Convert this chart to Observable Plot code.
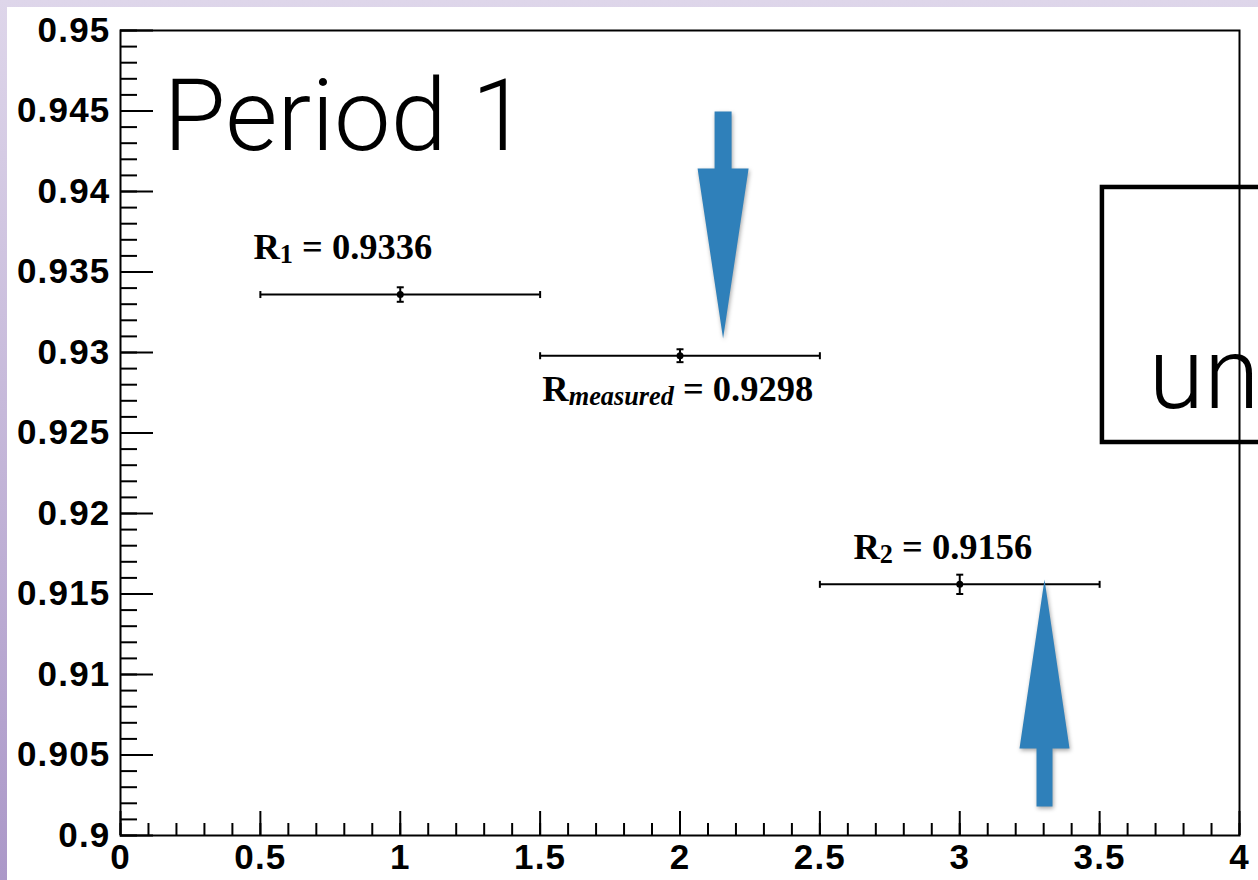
<!DOCTYPE html>
<html>
<head>
<meta charset="utf-8">
<script src="https://cdn.jsdelivr.net/npm/d3@7"></script>
<script src="https://cdn.jsdelivr.net/npm/@observablehq/plot@0.6"></script>
<style>
  html, body { margin: 0; padding: 0; background: #fff; }
  #page {
    position: relative; width: 1258px; height: 880px; overflow: hidden;
    background: linear-gradient(to bottom, #ded6ea, #ab98c8);
  }
  #chart {
    position: absolute; left: 7px; top: 7px; width: 1251px; height: 873px;
    background: #fff; overflow: hidden;
  }
  .tick-label text { letter-spacing: 1px; }
</style>
</head>
<body>
<div id="page"><div id="chart"></div></div>
<script>
// Measured ratios per bin, with their uncertainties
const binCenter    = [1, 2, 3];
const binHalfWidth = [0.5, 0.5, 0.5];
const ratio        = [0.9336, 0.9298, 0.9156];
const ratioErr     = [0.00045, 0.0004, 0.0006];

// Value labels: subscript and baseline position (data units)
const labelSub = ["1", "measured", "2"];
const labelX   = [0.475, 1.508, 2.62];
const labelY   = [0.93578, 0.92696, 0.9172];

// Axis ticks
const xMajor = [0, 0.5, 1, 1.5, 2, 2.5, 3, 3.5, 4];
const xMinor = d3.range(0, 41).map(i => i / 10);
const yMajor = [0.9, 0.905, 0.91, 0.915, 0.92, 0.925, 0.93, 0.935, 0.94, 0.945, 0.95];
const yMinor = d3.range(0, 51).map(i => +(0.9 + i / 1000).toFixed(3));

// Annotation arrows: centre x, tip y, head base y, tail y, head / shaft half widths
const arrowCx    = [2.154, 3.303];
const arrowTip   = [0.93087, 0.91590];
const arrowBase  = [0.94143, 0.90540];
const arrowTail  = [0.94497, 0.90180];
const arrowHead  = [0.0912, 0.0894];
const arrowShaft = [0.0304, 0.0286];

// Overlay texts and the boxed note at the right edge
const titleText = ["Period 1"];
const titleX = [0.154], titleY = [0.94255];
const noteText = ["un"];
const noteX = [3.675], noteY = [0.92658];
const noteBox = [{x1: 3.51, x2: 4.8, y1: 0.92441, y2: 0.94025}];

const points = binCenter.map((x, i) => ({
  x, hw: binHalfWidth[i], r: ratio[i], e: ratioErr[i]
}));
const labels = labelSub.map((sub, i) => ({
  sub, value: ratio[i], x: labelX[i], y: labelY[i]
}));
const arrowPts = arrowCx.flatMap((cx, i) => {
  const hw = arrowHead[i], sw = arrowShaft[i];
  return [
    [cx - sw, arrowTail[i]], [cx + sw, arrowTail[i]], [cx + sw, arrowBase[i]],
    [cx + hw, arrowBase[i]], [cx, arrowTip[i]], [cx - hw, arrowBase[i]],
    [cx - sw, arrowBase[i]]
  ].map(([x, y]) => ({arrow: i, x, y}));
});

// Short cap symbols for the error bar ends
const vCap = {draw(ctx, size) { const h = Math.sqrt(size / Math.PI); ctx.moveTo(0, -h); ctx.lineTo(0, h); }};
const hCap = {draw(ctx, size) { const h = Math.sqrt(size / Math.PI); ctx.moveTo(-h, 0); ctx.lineTo(h, 0); }};

const sansBold = "'Liberation Sans', Arial, Helvetica, sans-serif";
const thin = "'Helvetica Neue', Roboto, Lato, 'Open Sans', sans-serif";
const arrowColor = "#2f80ba";

const chart = Plot.plot({
  width: 1251, height: 873,
  marginLeft: 113, marginTop: 23, marginRight: 19, marginBottom: 45,
  style: {background: "white", overflow: "hidden"},
  x: {domain: [0, 4]},
  y: {domain: [0.9, 0.95]},
  marks: [
    // boxed note
    Plot.rect(noteBox, {x1: "x1", x2: "x2", y1: "y1", y2: "y2", fill: "white", stroke: "black", strokeWidth: 4.5}),
    Plot.text(noteText, {x: () => noteX[0], y: () => noteY[0], text: d => d, textAnchor: "start", lineAnchor: "bottom",
      fontSize: 101, fontWeight: 300, fontFamily: thin, fill: "black"}),
    // minor and major ticks, pointing inward
    Plot.axisY(yMinor, {tickSize: -17, fill: "none", stroke: "black", strokeWidth: 2, label: null}),
    Plot.axisY(yMajor, {tickSize: -33, fill: "none", stroke: "black", strokeWidth: 2, label: null}),
    Plot.axisX(xMinor, {tickSize: -12, fill: "none", stroke: "black", strokeWidth: 2, label: null}),
    Plot.axisX(xMajor, {tickSize: -24, fill: "none", stroke: "black", strokeWidth: 2, label: null}),
    // tick labels
    Plot.axisY(yMajor, {tickSize: 0, tickPadding: 10, tickFormat: d => `${d}`, fontSize: 35, fontWeight: "bold",
      fontFamily: sansBold, fill: "black", label: null}),
    Plot.axisX(xMajor, {tickSize: 0, tickPadding: 9, tickFormat: d => `${d}`, fontSize: 35, fontWeight: "bold",
      fontFamily: sansBold, fill: "black", label: null}),
    Plot.frame({stroke: "black", strokeWidth: 2}),
    // horizontal bin-width bars with end caps
    Plot.ruleY(points, {y: "r", x1: d => d.x - d.hw, x2: d => d.x + d.hw, stroke: "black", strokeWidth: 2}),
    Plot.dot(points, {x: d => d.x - d.hw, y: "r", symbol: vCap, r: 3.5, stroke: "black", strokeWidth: 2, fill: "none"}),
    Plot.dot(points, {x: d => d.x + d.hw, y: "r", symbol: vCap, r: 3.5, stroke: "black", strokeWidth: 2, fill: "none"}),
    // vertical uncertainty bars with caps
    Plot.ruleX(points, {x: "x", y1: d => d.r - d.e, y2: d => d.r + d.e, stroke: "black", strokeWidth: 2}),
    Plot.dot(points, {x: "x", y: d => d.r - d.e, symbol: hCap, r: 3.5, stroke: "black", strokeWidth: 2, fill: "none"}),
    Plot.dot(points, {x: "x", y: d => d.r + d.e, symbol: hCap, r: 3.5, stroke: "black", strokeWidth: 2, fill: "none"}),
    Plot.dot(points, {x: "x", y: "r", r: 3.5, fill: "black", stroke: "none"}),
    // value labels
    Plot.text(labels, {x: "x", y: "y", text: d => `R${d.sub} = ${d.value.toFixed(4)}`, textAnchor: "start",
      lineAnchor: "bottom", fontSize: 36.5, fontWeight: "bold",
      fontFamily: "'Liberation Serif', 'Times New Roman', Times, serif", fill: "black"}),
    // title
    Plot.text(titleText, {x: () => titleX[0], y: () => titleY[0], text: d => d, textAnchor: "start", lineAnchor: "bottom",
      fontSize: 101, fontWeight: 300, fontFamily: thin, fill: "black"}),
    // arrows
    Plot.line(arrowPts, {x: "x", y: "y", z: "arrow", fill: arrowColor, stroke: "none", curve: "linear-closed"})
  ]
});

// Wider tracking on the numeric tick labels
d3.select(chart).selectAll("text").each(function() {
  if (/^[\d.]+$/.test(this.textContent)) this.style.letterSpacing = "1.2px";
});

// Typeset the value labels with subscripts
d3.select(chart).selectAll("text").each(function() {
  const m = /^R(\S+) = ([\d.]+)$/.exec(this.textContent);
  if (!m) return;
  const t = d3.select(this);
  t.text(null);
  t.append("tspan").text("R");
  t.append("tspan").attr("font-size", "0.72em").attr("dy", "4")
    .attr("font-style", m[1] === "measured" ? "italic" : null).text(m[1]);
  t.append("tspan").attr("dy", "-4").text(` = ${m[2]}`);
});

// Soft shadow under the arrows
d3.select(chart).selectAll("path").filter(function() {
  return this.getAttribute("fill") === arrowColor || (this.parentNode && this.parentNode.getAttribute("fill") === arrowColor);
}).style("filter", "drop-shadow(1px 2px 2px rgba(0,0,0,0.35))");

document.getElementById("chart").append(chart);
</script>
</body>
</html>
